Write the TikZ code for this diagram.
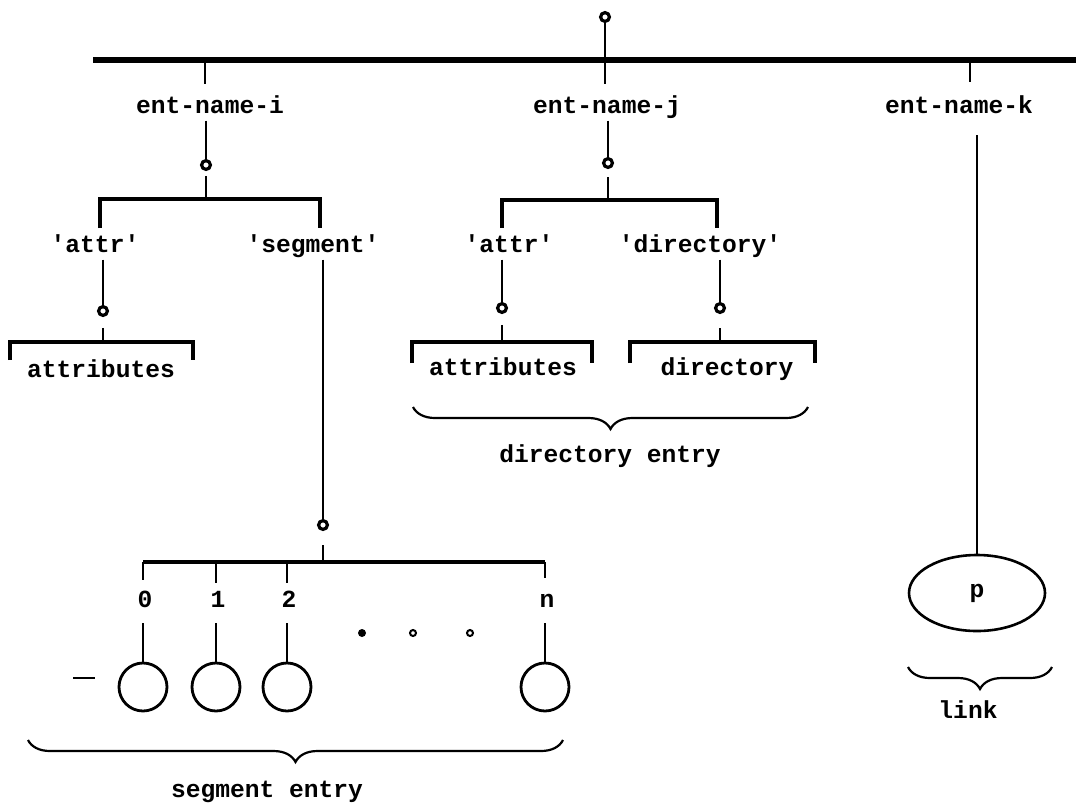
\documentclass[tikz,border=0pt]{standalone}
\usepackage{fontspec}
\setmonofont{Liberation Mono}
\usetikzlibrary{shapes.geometric,decorations.pathreplacing}
\newcommand{\lbl}{\ttfamily\bfseries\fontsize{17.5}{21}\selectfont}
\tikzset{
  knob/.style={circle,draw,fill=white,line width=0.8mm,minimum size=2.2mm,inner sep=0},
  bar/.style={line width=0.9mm},
  stem/.style={line width=0.7mm},
  txt/.style={font=\lbl,inner sep=1pt,text height=12pt,text depth=3.5pt},
  slot/.style={circle,draw,line width=0.7mm,minimum size=12mm,inner sep=0},
  grp/.style={decorate,decoration={brace,mirror,amplitude=5.5mm},line width=0.55mm},
}

\begin{document}
\begin{tikzpicture}[x=0.25mm,y=-0.25mm]
\useasboundingbox (0,0) rectangle (1076,807);
% top level
\node[knob] (root) at (605,17) {};
\coordinate (rootbar) at (605,60);
\draw[bar,line width=1.3mm] (93,60) -- (1076,60);
\draw[stem] (root) -- (rootbar);
\foreach \x/\h in {205/24,605/24,970/22}
  \draw[stem] (\x,60) -- ++(0,\h);
\node[txt] (ni) at (210,108) {ent-name-i};
\node[txt] (nj) at (607,108) {ent-name-j};
\node[txt] (nk) at (959,108) {ent-name-k};

% ent-name-i
\node[knob] (ki) at (206,165) {};
\coordinate (ibar) at (206,199);
\draw[stem,shorten <=1.2mm] (ki |- ni.south) -- (ki) -- (ibar);
\draw[bar] (100,228) -- (100,199) -- (320,199) -- (320,228);
\node[txt] (ai) at (95,247) {'attr'};
\node[txt] (si) at (313,247) {'segment'};
\node[knob] (kai) at (103,311) {};
\coordinate (aibar) at (103,342);
\draw[stem,shorten <=2.7mm] (kai |- ai.south) -- (kai) -- (aibar);
\draw[bar] (10,360) -- (10,342) -- (193,342) -- (193,360);
\node[txt] (ati) at (101,372) {attributes};

% segment entry
\node[knob] (ks) at (323,525) {};
\coordinate (sbar) at (323,562);
\draw[stem,shorten <=3.5mm] (ks |- si.south) -- (ks) -- (sbar);
\draw[bar] (143,562) -- (545,562);
\foreach \x/\t/\h [count=\i] in {143/0/18,216/1/21,287/2/21,545/n/16} {
  \draw[stem] (\x,562) -- ++(0,\h);
  \node[txt] (l\i) at (\x+2,602) {\t};
  \node[slot] (c\i) at (\x,687) {};
  \draw[stem,shorten <=2.2mm] (c\i |- l\i.south) -- (c\i);
}
\fill (362,633) circle (4);
\draw[line width=0.5mm] (413,633) circle (3);
\draw[line width=0.5mm] (470,633) circle (3);
\draw[line width=0.3mm] (73,678) -- (95,678);
\draw[grp] (28,740) -- (563,740);
\node[txt] (seg) at (267,792) {segment entry};

% ent-name-j
\node[knob] (kj) at (608,163) {};
\coordinate (jbar) at (608,200);
\draw[stem,shorten <=2mm] (kj |- nj.south) -- (kj) -- (jbar);
\draw[bar] (502,228) -- (502,200) -- (717,200) -- (717,228);
\node[txt] (aj) at (509,247) {'attr'};
\node[txt] (dj) at (700,247) {'directory'};
\node[knob] (kaj) at (502,308) {};
\coordinate (ajbar) at (502,342);
\draw[stem,shorten <=2.7mm] (kaj |- aj.south) -- (kaj) -- (ajbar);
\draw[bar] (412,363) -- (412,342) -- (592,342) -- (592,363);
\node[txt] (atj) at (503,370) {attributes};
\node[knob] (kdj) at (720,308) {};
\coordinate (djbar) at (720,342);
\draw[stem,shorten <=3.5mm] (kdj |- dj.south) -- (kdj) -- (djbar);
\draw[bar] (630,363) -- (630,342) -- (815,342) -- (815,363);
\node[txt] (dir) at (727,370) {directory};
\draw[grp] (413,407) -- (808,407);
\node[txt] (dent) at (610,457) {directory entry};

% ent-name-k
\node[draw,ellipse,line width=0.65mm,minimum width=34mm,minimum height=19mm,font=\lbl] (p) at (977,593) {p};
\draw[stem,shorten <=3.7mm] (p.north |- nk.south) -- (p);
\draw[grp] (908,667) -- (1052,667);
\node[txt] (lnk) at (968,713) {link};
\end{tikzpicture}
\end{document}
